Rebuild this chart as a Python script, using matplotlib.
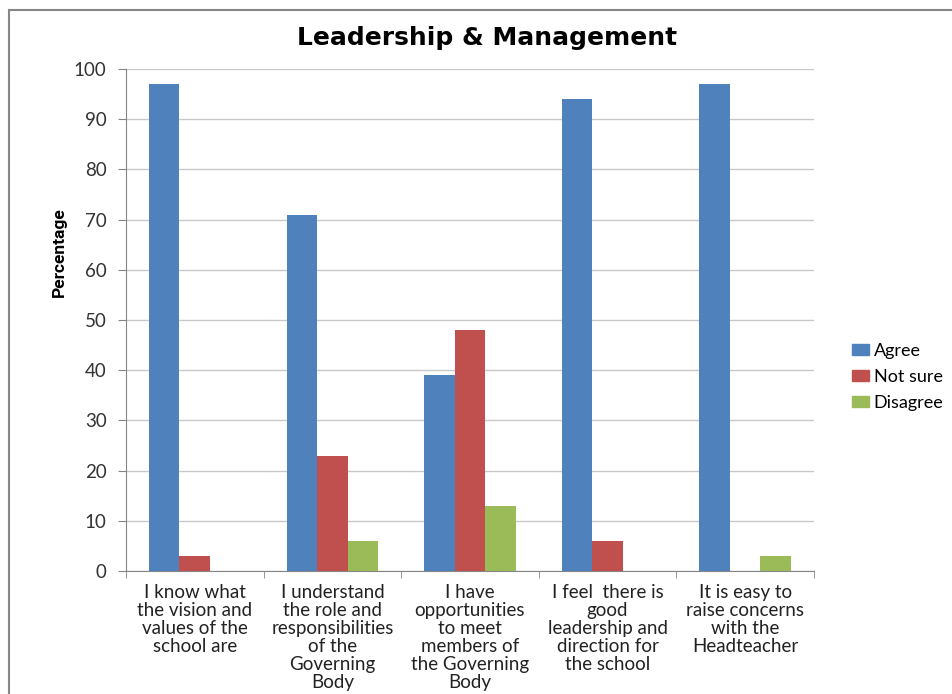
import matplotlib
matplotlib.use("Agg")
import matplotlib.pyplot as plt
import numpy as np
from matplotlib.patches import Rectangle, Patch

BLUE, RED, GREEN = "#4F81BD", "#C0504D", "#9BBB59"
AXIS_GRAY, GRID_GRAY = "#868686", "#C8C8C8"

categories = [
    "I know what\nthe vision and\nvalues of the\nschool are",
    "I understand\nthe role and\nresponsibilities\nof the\nGoverning\nBody",
    "I have\nopportunities\nto meet\nmembers of\nthe Governing\nBody",
    "I feel  there is\ngood\nleadership and\ndirection for\nthe school",
    "It is easy to\nraise concerns\nwith the\nHeadteacher",
]
series_names = ["Agree", "Not sure", "Disagree"]
agree = [97, 71, 39, 94, 97]
not_sure = [3, 23, 48, 6, 0]
disagree = [0, 6, 13, 0, 3]
colors = [BLUE, RED, GREEN]

fig = plt.figure(figsize=(9.53, 6.94), dpi=100)
ax = fig.add_axes([0.1322, 0.1772, 0.7219, 0.7233])

x = np.arange(len(categories))
w = 1 / 4.5
for k, (vals, c) in enumerate(zip([agree, not_sure, disagree], colors)):
    ax.bar(x + (k - 1) * w, vals, width=w, color=c, edgecolor="none", zorder=3)

ax.set_xlim(-0.5, len(categories) - 0.5)
ax.set_ylim(0, 100)
ax.set_yticks(range(0, 101, 10))
ax.yaxis.grid(True, color=GRID_GRAY, lw=1, zorder=0)
for s in ["top", "right"]:
    ax.spines[s].set_visible(False)
for s in ["left", "bottom"]:
    ax.spines[s].set_color(AXIS_GRAY)
ax.tick_params(axis="y", direction="out", length=6, color=AXIS_GRAY,
               labelsize=13.5, labelcolor="#333333", pad=8)
ax.set_xticks(x)
ax.set_xticklabels(categories, fontsize=13.5, family="Lato", linespacing=1.08,
                   color="#222222")
ax.set_xticks(np.arange(-0.5, len(categories), 1), minor=True)
ax.tick_params(axis="x", which="major", length=0, pad=9)
ax.tick_params(axis="x", which="minor", direction="out", length=5, color=AXIS_GRAY)
for lab in ax.get_yticklabels():
    lab.set_family("Lato")

fig.text(59 / 953, 1 - 252 / 694, "Percentage", rotation=90, ha="center", va="center",
         fontsize=12.5, fontweight="bold", family="Roboto")
fig.text(0.511, 0.945, "Leadership & Management", ha="center", va="center",
         fontsize=18, fontweight="bold", family="DejaVu Sans")

fig.legend(handles=[Patch(color=c, label=n) for c, n in zip(colors, series_names)],
           loc="center left", bbox_to_anchor=(0.877, 0.457), frameon=False,
           handlelength=0.95, handleheight=0.6, handletextpad=0.25,
           labelspacing=0.55, prop={"family": "Lato", "size": 13})

fig.patches.append(Rectangle((9 / 953, -0.1), 1.2, 1 - 10 / 694 + 0.1,
                             transform=fig.transFigure, fill=False,
                             edgecolor="#878787", lw=1.5))

fig.savefig("out.png", dpi=100)
